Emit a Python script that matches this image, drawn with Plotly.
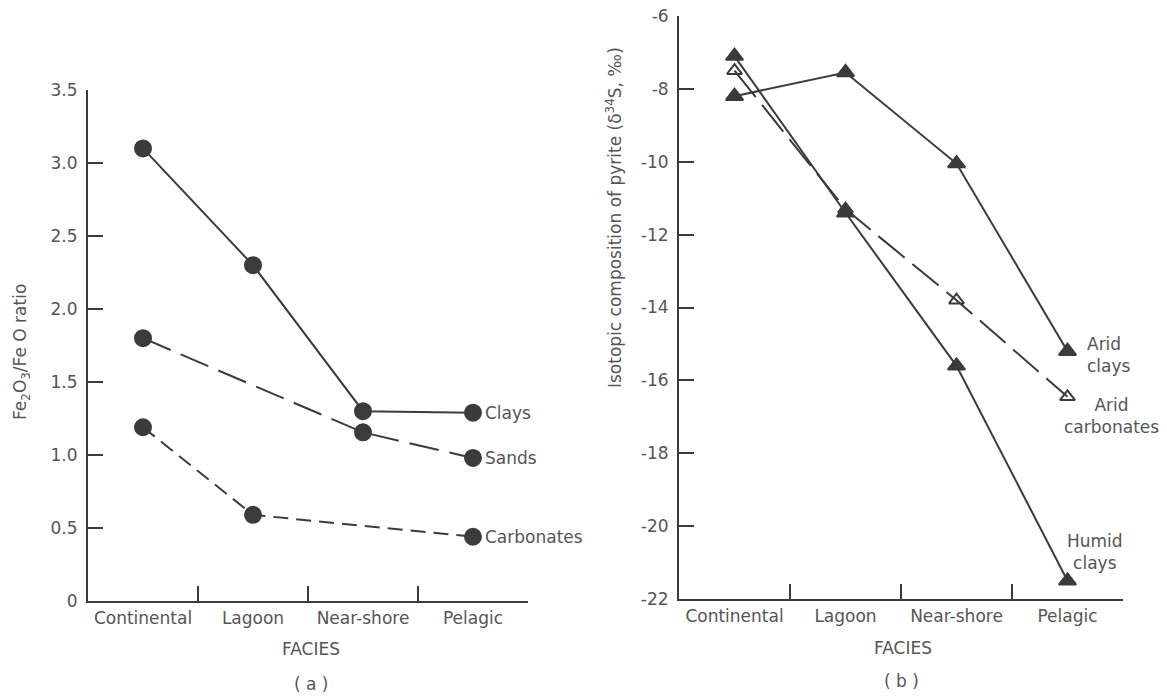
import plotly.graph_objects as go

# ---------------- data ----------------
facies = ["Continental", "Lagoon", "Near-shore", "Pelagic"]

# panel (a): Fe2O3/FeO ratio
clays = [3.10, 2.30, 1.30, 1.29]
sands = [1.80, None, 1.155, 0.98]
carbonates = [1.19, 0.59, None, 0.44]
left_tickvals = [0, 0.5, 1.0, 1.5, 2.0, 2.5, 3.0, 3.5]
left_ticktext = ["0", "0.5", "1.0", "1.5", "2.0", "2.5", "3.0", "3.5"]

# panel (b): isotopic composition of pyrite (delta34S, permil)
arid_clays = [-8.2, -7.55, -10.05, -15.2]
humid_clays = [-7.1, -11.4, -15.6, -21.5]
arid_carbonates = [-7.5, -11.3, -13.8, -16.45]
right_tickvals = [-6, -8, -10, -12, -14, -16, -18, -20, -22]
right_ticktext = ["-6", "-8", "-10", "-12", "-14", "-16", "-18", "-20", "-22"]

# ---------------- style ----------------
W, H = 1167, 697
INK = "#3b3b3b"
TXT = "#555555"
FONT = "DejaVu Sans"
FS = 17

fig = go.Figure()

def add(x, y, xa, ya, dash, symbol, size, name):
    fig.add_trace(go.Scatter(
        x=x, y=y, xaxis=xa, yaxis=ya, mode="lines+markers", name=name,
        connectgaps=True,
        line=dict(color=INK, width=2, dash=dash),
        marker=dict(symbol=symbol, size=size, color=INK,
                    line=dict(color=INK, width=2)),
        showlegend=False, cliponaxis=False))

add(facies, clays, "x", "y", "solid", "circle", 16, "Clays")
add(facies, sands, "x", "y", "30px,11px", "circle", 16, "Sands")
add(facies, carbonates, "x", "y", "15px,8px", "circle", 16, "Carbonates")

add(facies, arid_carbonates, "x2", "y2", "34px,10px", "triangle-up-open", 13, "Arid carbonates")
add(facies, humid_clays, "x2", "y2", "solid", "triangle-up", 15, "Humid clays")
add(facies, arid_clays, "x2", "y2", "solid", "triangle-up", 15, "Arid clays")

def px_x(p):
    return p / W

def px_y(p):
    return (H - p) / H

xcommon = dict(type="category", categoryorder="array", categoryarray=facies,
               range=[-0.5, 3.5], tickson="boundaries", ticks="inside", ticklen=15,
               tickwidth=1.5, tickcolor=INK, showline=True, linecolor=INK, linewidth=2,
               showgrid=False, zeroline=False, ticklabelstandoff=1,
               tickfont=dict(family=FONT, size=FS, color=TXT))
ycommon = dict(ticks="inside", ticklen=15, tickwidth=1.5, tickcolor=INK,
               showline=True, linecolor=INK, linewidth=2, showgrid=False,
               zeroline=False, ticklabelstandoff=5,
               tickfont=dict(family=FONT, size=FS, color=TXT))

fig.update_layout(
    width=W, height=H, autosize=False,
    margin=dict(l=0, r=0, t=0, b=0, autoexpand=False),
    paper_bgcolor="white", plot_bgcolor="white",
    font=dict(family=FONT, size=FS, color=TXT),
    xaxis=dict(domain=[px_x(88), px_x(528)], anchor="y", **xcommon),
    yaxis=dict(domain=[px_y(601), px_y(90)], anchor="x", range=[0, 3.5],
               tickvals=left_tickvals, ticktext=left_ticktext, **ycommon),
    xaxis2=dict(domain=[px_x(679), px_x(1123)], anchor="y2", **xcommon),
    yaxis2=dict(domain=[px_y(599), px_y(16)], anchor="x2", range=[-22, -6],
                tickvals=right_tickvals, ticktext=right_ticktext, **ycommon),
)

ann = []
# series labels, panel (a)
for label, series in [("Clays", clays), ("Sands", sands), ("Carbonates", carbonates)]:
    ann.append(dict(x=3, y=series[3], xref="x", yref="y", text=label,
                    showarrow=False, xanchor="left", yanchor="middle", xshift=10))
# series labels, panel (b)
ann.append(dict(x=3, y=arid_clays[3], xref="x2", yref="y2", text="Arid<br>clays",
                showarrow=False, xanchor="left", yanchor="middle", align="left",
                xshift=17, yshift=-4))
ann.append(dict(x=3, y=arid_carbonates[3], xref="x2", yref="y2", text="Arid<br>carbonates",
                showarrow=False, xanchor="left", yanchor="middle", align="center",
                xshift=-6, yshift=-19))
ann.append(dict(x=3, y=humid_clays[3], xref="x2", yref="y2", text="Humid<br>clays",
                showarrow=False, xanchor="center", yanchor="middle", align="center",
                xshift=27, yshift=29))
# axis titles
ann.append(dict(x=px_x(21), y=px_y(352), xref="paper", yref="paper",
                text="Fe<sub>2</sub>O<sub>3</sub>/Fe O ratio", textangle=-90,
                showarrow=False, xanchor="center", yanchor="middle"))
ann.append(dict(x=px_x(614), y=px_y(218), xref="paper", yref="paper",
                text="Isotopic composition of pyrite (δ<sup>34</sup>S, ‰)", textangle=-90,
                showarrow=False, xanchor="center", yanchor="middle"))
ann.append(dict(x=px_x(311), y=px_y(649), xref="paper", yref="paper", text="FACIES",
                showarrow=False, xanchor="center", yanchor="middle"))
ann.append(dict(x=px_x(311), y=px_y(684), xref="paper", yref="paper", text="( a )",
                showarrow=False, xanchor="center", yanchor="middle"))
ann.append(dict(x=px_x(903), y=px_y(648), xref="paper", yref="paper", text="FACIES",
                showarrow=False, xanchor="center", yanchor="middle"))
ann.append(dict(x=px_x(901), y=px_y(681), xref="paper", yref="paper", text="( b )",
                showarrow=False, xanchor="center", yanchor="middle"))
fig.update_layout(annotations=ann)

fig.write_html("out.html", config={"responsive": False, "displayModeBar": False},
               post_script="document.body.style.margin='0';")
